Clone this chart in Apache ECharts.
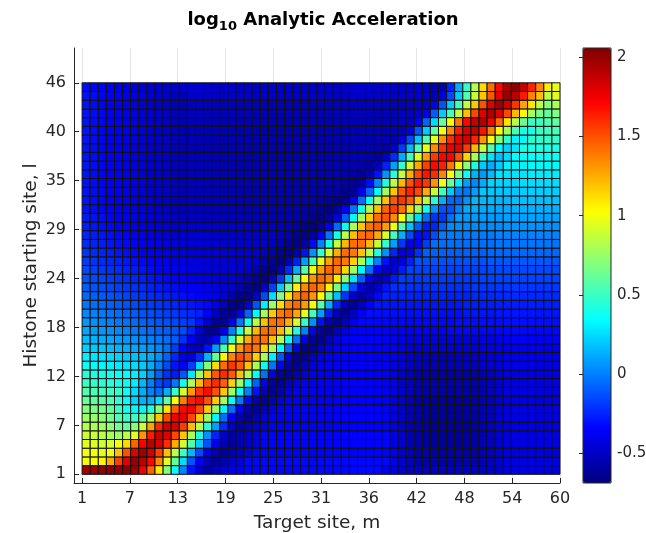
<!DOCTYPE html>
<html>
<head>
<meta charset="utf-8">
<script src="https://cdn.jsdelivr.net/npm/echarts@6/dist/echarts.min.js"></script>
<style>
html,body{margin:0;padding:0;background:#fff}
#main{width:646px;height:533px}
</style>
</head>
<body>
<div id="main"></div>
<script>
// tick positions (linspace of the site ranges) and the labels shown for them
var xTicks = [1, 6.9, 12.8, 18.7, 24.6, 30.5, 36.4, 42.3, 48.2, 54.1, 60];
var xTickLabels = ['1', '7', '13', '19', '25', '31', '36', '42', '48', '54', '60'];
var yTicks = [1, 6.625, 12.25, 17.875, 23.5, 29.125, 34.75, 40.375, 46];
var yTickLabels = ['1', '7', '12', '18', '24', '29', '35', '40', '46'];
var cbTicks = [-0.5, 0, 0.5, 1, 1.5, 2];
var cbTickLabels = ['-0.5', '0', '0.5', '1', '1.5', '2'];
var cbMin = -0.69, cbMax = 2.06;

// log10 acceleration, one array per histone starting site l, target sites m = 1..59
var l01 = [1.97,2.0,2.02,2.03,2.03,2.03,1.98,1.75,1.45,1.08,0.7,0.35,0.0,-0.3,-0.48,-0.58,-0.52,-0.45,-0.4,-0.36,-0.33,-0.33,-0.33,-0.33,-0.33,-0.33,-0.33,-0.33,-0.33,-0.33,-0.33,-0.33,-0.33,-0.33,-0.33,-0.33,-0.33,-0.38,-0.42,-0.46,-0.5,-0.5,-0.5,-0.5,-0.5,-0.5,-0.5,-0.5,-0.5,-0.5,-0.48,-0.46,-0.43,-0.43,-0.43,-0.43,-0.43,-0.43,-0.43];
var l02 = [1.0,1.02,1.05,1.25,1.55,1.8,2.0,1.9,1.7,1.35,0.95,0.6,0.25,-0.12,-0.38,-0.55,-0.6,-0.55,-0.48,-0.43,-0.33,-0.33,-0.33,-0.33,-0.33,-0.33,-0.33,-0.33,-0.33,-0.33,-0.33,-0.33,-0.33,-0.33,-0.33,-0.33,-0.33,-0.33,-0.4,-0.46,-0.51,-0.57,-0.57,-0.57,-0.57,-0.57,-0.57,-0.57,-0.57,-0.54,-0.5,-0.47,-0.43,-0.43,-0.43,-0.43,-0.43,-0.43,-0.43];
var l03 = [1.0,1.0,0.95,1.0,1.2,1.5,1.8,1.97,1.85,1.55,1.2,0.85,0.5,0.15,-0.15,-0.4,-0.55,-0.6,-0.55,-0.48,-0.43,-0.34,-0.34,-0.34,-0.34,-0.34,-0.34,-0.34,-0.34,-0.34,-0.34,-0.34,-0.34,-0.34,-0.34,-0.34,-0.34,-0.34,-0.4,-0.46,-0.51,-0.57,-0.57,-0.57,-0.57,-0.57,-0.57,-0.57,-0.57,-0.54,-0.5,-0.47,-0.43,-0.43,-0.43,-0.43,-0.43,-0.43,-0.43];
var l04 = [0.95,0.93,0.9,0.92,1.0,1.13,1.45,1.72,1.9,1.82,1.6,1.25,0.9,0.55,0.2,-0.12,-0.38,-0.54,-0.6,-0.55,-0.48,-0.44,-0.34,-0.34,-0.34,-0.34,-0.34,-0.34,-0.34,-0.34,-0.34,-0.34,-0.34,-0.34,-0.34,-0.34,-0.34,-0.34,-0.41,-0.47,-0.53,-0.58,-0.6,-0.61,-0.61,-0.61,-0.61,-0.6,-0.58,-0.55,-0.51,-0.47,-0.44,-0.43,-0.43,-0.43,-0.43,-0.43,-0.43];
var l05 = [0.9,0.88,0.85,0.8,0.75,0.85,0.95,1.32,1.65,1.86,1.8,1.53,1.18,0.8,0.42,0.05,-0.25,-0.48,-0.58,-0.55,-0.48,-0.44,-0.34,-0.34,-0.34,-0.34,-0.34,-0.34,-0.34,-0.34,-0.34,-0.34,-0.34,-0.34,-0.34,-0.34,-0.34,-0.34,-0.41,-0.47,-0.53,-0.58,-0.6,-0.61,-0.61,-0.61,-0.61,-0.6,-0.58,-0.55,-0.51,-0.47,-0.44,-0.43,-0.43,-0.43,-0.43,-0.43,-0.43];
var l06 = [0.82,0.8,0.78,0.72,0.65,0.6,0.7,0.9,1.28,1.62,1.84,1.82,1.56,1.21,0.83,0.45,0.08,-0.23,-0.47,-0.58,-0.55,-0.48,-0.42,-0.35,-0.35,-0.35,-0.35,-0.35,-0.35,-0.35,-0.35,-0.35,-0.35,-0.35,-0.35,-0.35,-0.35,-0.35,-0.41,-0.47,-0.53,-0.58,-0.6,-0.61,-0.61,-0.61,-0.61,-0.6,-0.58,-0.55,-0.51,-0.47,-0.44,-0.43,-0.43,-0.43,-0.43,-0.43,-0.43];
var l07 = [0.76,0.74,0.72,0.65,0.55,0.5,0.5,0.6,0.8,1.18,1.52,1.75,1.77,1.53,1.18,0.77,0.33,-0.05,-0.36,-0.56,-0.6,-0.52,-0.43,-0.35,-0.35,-0.35,-0.35,-0.35,-0.35,-0.35,-0.35,-0.35,-0.35,-0.35,-0.35,-0.35,-0.35,-0.35,-0.41,-0.47,-0.53,-0.58,-0.6,-0.61,-0.61,-0.61,-0.61,-0.6,-0.58,-0.55,-0.51,-0.47,-0.44,-0.43,-0.43,-0.43,-0.43,-0.43,-0.43];
var l08 = [0.7,0.68,0.66,0.6,0.5,0.4,0.33,0.32,0.42,0.72,1.1,1.46,1.7,1.74,1.52,1.17,0.76,0.34,-0.05,-0.36,-0.57,-0.6,-0.52,-0.43,-0.35,-0.35,-0.35,-0.35,-0.35,-0.35,-0.35,-0.35,-0.35,-0.35,-0.35,-0.35,-0.35,-0.35,-0.41,-0.47,-0.53,-0.58,-0.6,-0.61,-0.61,-0.61,-0.61,-0.6,-0.58,-0.55,-0.51,-0.47,-0.44,-0.43,-0.43,-0.43,-0.43,-0.43,-0.43];
var l09 = [0.62,0.6,0.58,0.55,0.46,0.35,0.22,0.13,0.12,0.25,0.6,1.02,1.38,1.64,1.7,1.5,1.17,0.78,0.36,-0.02,-0.33,-0.55,-0.6,-0.52,-0.43,-0.35,-0.35,-0.35,-0.35,-0.35,-0.35,-0.35,-0.35,-0.35,-0.35,-0.35,-0.35,-0.35,-0.41,-0.47,-0.53,-0.58,-0.6,-0.61,-0.61,-0.61,-0.61,-0.6,-0.58,-0.55,-0.51,-0.47,-0.44,-0.43,-0.43,-0.43,-0.43,-0.43,-0.43];
var l10 = [0.56,0.54,0.52,0.5,0.47,0.38,0.25,0.12,0.0,-0.05,0.12,0.5,0.92,1.3,1.58,1.68,1.5,1.17,0.78,0.38,0.0,-0.3,-0.53,-0.6,-0.53,-0.43,-0.36,-0.36,-0.36,-0.36,-0.36,-0.36,-0.36,-0.36,-0.36,-0.36,-0.36,-0.36,-0.4,-0.46,-0.51,-0.57,-0.57,-0.57,-0.57,-0.57,-0.57,-0.57,-0.57,-0.54,-0.5,-0.47,-0.43,-0.43,-0.43,-0.43,-0.43,-0.43,-0.43];
var l11 = [0.5,0.48,0.46,0.44,0.42,0.38,0.3,0.15,0.0,-0.15,-0.2,-0.02,0.38,0.82,1.22,1.5,1.6,1.46,1.15,0.76,0.32,-0.08,-0.4,-0.58,-0.6,-0.51,-0.43,-0.36,-0.36,-0.36,-0.36,-0.36,-0.36,-0.36,-0.36,-0.36,-0.36,-0.36,-0.4,-0.46,-0.51,-0.57,-0.57,-0.57,-0.57,-0.57,-0.57,-0.57,-0.57,-0.54,-0.5,-0.47,-0.43,-0.43,-0.43,-0.43,-0.43,-0.43,-0.43];
var l12 = [0.44,0.42,0.4,0.38,0.36,0.34,0.3,0.22,0.08,-0.08,-0.22,-0.28,-0.12,0.28,0.78,1.19,1.48,1.6,1.48,1.19,0.8,0.35,-0.05,-0.38,-0.58,-0.61,-0.52,-0.43,-0.37,-0.37,-0.37,-0.37,-0.37,-0.37,-0.37,-0.37,-0.37,-0.37,-0.4,-0.46,-0.51,-0.57,-0.57,-0.57,-0.57,-0.57,-0.57,-0.57,-0.57,-0.54,-0.5,-0.47,-0.43,-0.43,-0.43,-0.43,-0.43,-0.43,-0.43];
var l13 = [0.37,0.35,0.33,0.31,0.29,0.27,0.25,0.2,0.12,0.0,-0.15,-0.3,-0.35,-0.18,0.24,0.72,1.12,1.42,1.57,1.47,1.2,0.8,0.36,-0.04,-0.37,-0.58,-0.61,-0.51,-0.43,-0.37,-0.37,-0.37,-0.37,-0.37,-0.37,-0.37,-0.37,-0.37,-0.4,-0.44,-0.48,-0.52,-0.53,-0.53,-0.53,-0.53,-0.52,-0.51,-0.5,-0.48,-0.46,-0.44,-0.42,-0.42,-0.42,-0.42,-0.42,-0.42,-0.42];
var l14 = [0.3,0.28,0.26,0.24,0.22,0.2,0.18,0.16,0.12,0.05,-0.08,-0.25,-0.42,-0.45,-0.24,0.14,0.6,1.05,1.36,1.51,1.42,1.16,0.8,0.3,-0.12,-0.44,-0.63,-0.6,-0.5,-0.42,-0.37,-0.37,-0.37,-0.37,-0.37,-0.37,-0.37,-0.37,-0.4,-0.44,-0.48,-0.52,-0.53,-0.53,-0.53,-0.53,-0.52,-0.51,-0.5,-0.48,-0.46,-0.44,-0.42,-0.42,-0.42,-0.42,-0.42,-0.42,-0.42];
var l15 = [0.22,0.2,0.18,0.16,0.14,0.12,0.1,0.08,0.06,0.02,-0.05,-0.18,-0.35,-0.5,-0.52,-0.3,0.07,0.53,0.97,1.3,1.47,1.4,1.16,0.8,0.34,-0.08,-0.42,-0.62,-0.62,-0.5,-0.41,-0.36,-0.36,-0.36,-0.36,-0.36,-0.36,-0.36,-0.38,-0.41,-0.44,-0.46,-0.47,-0.47,-0.47,-0.47,-0.46,-0.45,-0.44,-0.43,-0.42,-0.41,-0.4,-0.4,-0.4,-0.4,-0.4,-0.4,-0.4];
var l16 = [0.16,0.14,0.12,0.1,0.08,0.06,0.04,0.02,0.0,-0.02,-0.05,-0.1,-0.22,-0.4,-0.55,-0.55,-0.34,0.03,0.48,0.92,1.25,1.43,1.41,1.2,0.83,0.38,-0.05,-0.39,-0.61,-0.63,-0.52,-0.41,-0.35,-0.35,-0.35,-0.35,-0.35,-0.35,-0.37,-0.39,-0.41,-0.43,-0.44,-0.44,-0.44,-0.44,-0.43,-0.42,-0.41,-0.4,-0.39,-0.38,-0.37,-0.37,-0.37,-0.37,-0.37,-0.37,-0.37];
var l17 = [0.1,0.08,0.06,0.04,0.02,0.0,-0.02,-0.04,-0.06,-0.08,-0.1,-0.12,-0.15,-0.26,-0.44,-0.6,-0.6,-0.36,0.0,0.43,0.87,1.22,1.42,1.42,1.22,0.87,0.43,0.0,-0.35,-0.59,-0.64,-0.52,-0.41,-0.35,-0.35,-0.35,-0.35,-0.35,-0.35,-0.35,-0.35,-0.35,-0.35,-0.35,-0.35,-0.33,-0.33,-0.33,-0.33,-0.33,-0.33,-0.33,-0.33,-0.33,-0.33,-0.33,-0.33,-0.33,-0.33];
var l18 = [0.06,0.04,0.02,0.0,-0.02,-0.04,-0.06,-0.08,-0.1,-0.12,-0.14,-0.16,-0.18,-0.2,-0.3,-0.47,-0.62,-0.62,-0.38,-0.03,0.4,0.84,1.2,1.41,1.43,1.25,0.92,0.48,0.04,-0.31,-0.56,-0.63,-0.52,-0.39,-0.33,-0.33,-0.33,-0.33,-0.33,-0.33,-0.33,-0.33,-0.33,-0.33,-0.33,-0.33,-0.31,-0.31,-0.31,-0.31,-0.31,-0.31,-0.31,-0.31,-0.31,-0.31,-0.31,-0.31,-0.31];
var l19 = [0.02,0.0,-0.02,-0.04,-0.06,-0.08,-0.1,-0.12,-0.14,-0.16,-0.18,-0.2,-0.22,-0.24,-0.26,-0.34,-0.5,-0.63,-0.63,-0.41,-0.08,0.35,0.8,1.17,1.39,1.44,1.27,0.95,0.52,0.08,-0.28,-0.54,-0.62,-0.5,-0.37,-0.31,-0.31,-0.31,-0.31,-0.31,-0.31,-0.31,-0.31,-0.31,-0.31,-0.31,-0.31,-0.29,-0.29,-0.29,-0.29,-0.29,-0.29,-0.29,-0.29,-0.29,-0.29,-0.29,-0.29];
var l20 = [-0.03,-0.05,-0.07,-0.09,-0.11,-0.13,-0.15,-0.17,-0.19,-0.21,-0.23,-0.25,-0.27,-0.29,-0.31,-0.33,-0.4,-0.52,-0.63,-0.64,-0.44,-0.12,0.3,0.75,1.13,1.37,1.44,1.3,0.99,0.57,0.12,-0.25,-0.52,-0.6,-0.5,-0.35,-0.29,-0.29,-0.29,-0.29,-0.29,-0.29,-0.29,-0.29,-0.29,-0.29,-0.29,-0.27,-0.27,-0.27,-0.27,-0.27,-0.27,-0.27,-0.27,-0.27,-0.27,-0.27,-0.27];
var l21 = [-0.07,-0.09,-0.11,-0.13,-0.15,-0.17,-0.19,-0.21,-0.23,-0.25,-0.27,-0.29,-0.31,-0.33,-0.35,-0.37,-0.39,-0.44,-0.53,-0.63,-0.64,-0.46,-0.15,0.25,0.7,1.1,1.36,1.45,1.32,1.02,0.61,0.17,-0.21,-0.49,-0.59,-0.5,-0.33,-0.26,-0.26,-0.26,-0.26,-0.26,-0.26,-0.26,-0.26,-0.26,-0.26,-0.26,-0.24,-0.24,-0.24,-0.24,-0.24,-0.24,-0.24,-0.24,-0.24,-0.24,-0.24];
var l22 = [-0.1,-0.12,-0.14,-0.16,-0.18,-0.2,-0.22,-0.24,-0.26,-0.28,-0.3,-0.32,-0.34,-0.36,-0.38,-0.4,-0.42,-0.44,-0.47,-0.54,-0.62,-0.65,-0.48,-0.18,0.2,0.66,1.06,1.34,1.45,1.34,1.06,0.66,0.22,-0.16,-0.45,-0.57,-0.48,-0.3,-0.22,-0.22,-0.22,-0.22,-0.22,-0.22,-0.22,-0.22,-0.22,-0.22,-0.2,-0.2,-0.2,-0.2,-0.2,-0.2,-0.2,-0.2,-0.2,-0.2,-0.2];
var l23 = [-0.13,-0.15,-0.17,-0.19,-0.21,-0.23,-0.25,-0.27,-0.29,-0.31,-0.33,-0.35,-0.37,-0.39,-0.41,-0.43,-0.45,-0.45,-0.45,-0.48,-0.54,-0.62,-0.65,-0.5,-0.21,0.16,0.62,1.03,1.32,1.45,1.36,1.09,0.71,0.27,-0.1,-0.4,-0.54,-0.46,-0.28,-0.19,-0.19,-0.19,-0.19,-0.19,-0.19,-0.19,-0.19,-0.19,-0.19,-0.17,-0.17,-0.17,-0.17,-0.17,-0.17,-0.17,-0.17,-0.17,-0.17];
var l24 = [-0.16,-0.18,-0.2,-0.22,-0.24,-0.26,-0.28,-0.3,-0.32,-0.34,-0.36,-0.38,-0.4,-0.42,-0.44,-0.45,-0.45,-0.45,-0.45,-0.45,-0.48,-0.54,-0.62,-0.65,-0.52,-0.24,0.12,0.58,1.0,1.3,1.45,1.38,1.13,0.76,0.33,-0.05,-0.35,-0.5,-0.44,-0.28,-0.17,-0.17,-0.17,-0.17,-0.17,-0.17,-0.17,-0.17,-0.17,-0.17,-0.15,-0.15,-0.15,-0.15,-0.15,-0.15,-0.15,-0.15,-0.15];
var l25 = [-0.19,-0.21,-0.23,-0.25,-0.27,-0.29,-0.31,-0.33,-0.35,-0.37,-0.39,-0.41,-0.43,-0.45,-0.45,-0.46,-0.46,-0.46,-0.46,-0.46,-0.46,-0.48,-0.54,-0.62,-0.65,-0.53,-0.27,0.08,0.53,0.97,1.28,1.44,1.39,1.16,0.8,0.38,0.0,-0.3,-0.46,-0.42,-0.26,-0.13,-0.13,-0.13,-0.13,-0.13,-0.13,-0.13,-0.13,-0.13,-0.11,-0.11,-0.11,-0.11,-0.11,-0.11,-0.11,-0.11,-0.11];
var l26 = [-0.21,-0.23,-0.25,-0.27,-0.29,-0.31,-0.33,-0.35,-0.37,-0.39,-0.41,-0.43,-0.45,-0.46,-0.46,-0.46,-0.46,-0.46,-0.46,-0.46,-0.46,-0.46,-0.48,-0.54,-0.62,-0.65,-0.55,-0.3,0.04,0.48,0.92,1.25,1.43,1.4,1.19,0.84,0.43,0.04,-0.25,-0.42,-0.38,-0.22,-0.09,-0.09,-0.09,-0.09,-0.09,-0.09,-0.09,-0.09,-0.07,-0.07,-0.07,-0.07,-0.07,-0.07,-0.07,-0.07,-0.07];
var l27 = [-0.23,-0.25,-0.27,-0.29,-0.31,-0.33,-0.35,-0.37,-0.39,-0.41,-0.43,-0.45,-0.47,-0.47,-0.47,-0.47,-0.47,-0.47,-0.47,-0.47,-0.47,-0.47,-0.47,-0.49,-0.55,-0.62,-0.65,-0.56,-0.33,0.0,0.43,0.87,1.22,1.42,1.42,1.22,0.88,0.47,0.08,-0.2,-0.38,-0.34,-0.18,-0.05,-0.05,-0.05,-0.05,-0.05,-0.05,-0.05,-0.05,-0.03,-0.03,-0.03,-0.03,-0.03,-0.03,-0.03,-0.03];
var l28 = [-0.25,-0.27,-0.29,-0.31,-0.33,-0.35,-0.37,-0.39,-0.41,-0.43,-0.45,-0.47,-0.48,-0.48,-0.48,-0.48,-0.48,-0.48,-0.48,-0.48,-0.48,-0.48,-0.48,-0.48,-0.5,-0.55,-0.62,-0.65,-0.58,-0.36,-0.03,0.4,0.84,1.2,1.41,1.43,1.26,0.93,0.52,0.13,-0.15,-0.33,-0.3,-0.14,-0.01,-0.01,-0.01,-0.01,-0.01,-0.01,-0.01,0.01,0.01,0.01,0.01,0.01,0.01,0.01,0.01];
var l29 = [-0.27,-0.29,-0.31,-0.33,-0.35,-0.37,-0.39,-0.41,-0.43,-0.45,-0.47,-0.49,-0.5,-0.5,-0.5,-0.5,-0.5,-0.5,-0.5,-0.5,-0.5,-0.5,-0.5,-0.5,-0.5,-0.52,-0.56,-0.63,-0.66,-0.6,-0.39,-0.06,0.36,0.8,1.18,1.41,1.46,1.3,0.98,0.58,0.18,-0.1,-0.28,-0.25,-0.1,0.03,0.03,0.03,0.03,0.03,0.03,0.03,0.05,0.05,0.05,0.05,0.05,0.05,0.05];
var l30 = [-0.28,-0.3,-0.32,-0.34,-0.36,-0.38,-0.4,-0.42,-0.44,-0.46,-0.48,-0.5,-0.52,-0.53,-0.53,-0.53,-0.53,-0.53,-0.53,-0.53,-0.53,-0.53,-0.53,-0.53,-0.53,-0.53,-0.54,-0.57,-0.63,-0.66,-0.6,-0.42,-0.1,0.33,0.78,1.17,1.42,1.49,1.34,1.02,0.62,0.24,-0.05,-0.22,-0.2,-0.05,0.07,0.07,0.07,0.07,0.07,0.07,0.09,0.09,0.09,0.09,0.09,0.09,0.09];
var l31 = [-0.3,-0.32,-0.34,-0.36,-0.38,-0.4,-0.42,-0.44,-0.46,-0.48,-0.5,-0.52,-0.54,-0.55,-0.55,-0.55,-0.55,-0.55,-0.55,-0.55,-0.55,-0.55,-0.55,-0.55,-0.55,-0.55,-0.55,-0.56,-0.58,-0.63,-0.65,-0.58,-0.36,-0.04,0.38,0.82,1.2,1.45,1.55,1.42,1.14,0.77,0.38,0.05,-0.13,-0.12,0.0,0.11,0.11,0.11,0.11,0.11,0.11,0.13,0.13,0.13,0.13,0.13,0.13];
var l32 = [-0.3,-0.32,-0.34,-0.36,-0.38,-0.4,-0.42,-0.44,-0.46,-0.48,-0.5,-0.52,-0.54,-0.55,-0.55,-0.55,-0.55,-0.55,-0.55,-0.55,-0.55,-0.55,-0.55,-0.55,-0.55,-0.55,-0.55,-0.55,-0.55,-0.56,-0.58,-0.64,-0.62,-0.4,-0.06,0.36,0.8,1.19,1.48,1.58,1.48,1.2,0.82,0.45,0.12,-0.07,-0.08,0.05,0.15,0.15,0.15,0.15,0.15,0.17,0.17,0.17,0.17,0.17,0.17];
var l33 = [-0.3,-0.32,-0.34,-0.36,-0.38,-0.4,-0.42,-0.44,-0.46,-0.48,-0.5,-0.52,-0.54,-0.55,-0.55,-0.55,-0.55,-0.55,-0.55,-0.55,-0.55,-0.55,-0.55,-0.55,-0.55,-0.55,-0.55,-0.55,-0.55,-0.55,-0.56,-0.58,-0.64,-0.62,-0.4,-0.07,0.34,0.78,1.18,1.48,1.62,1.52,1.25,0.88,0.52,0.2,0.0,-0.03,0.08,0.19,0.19,0.19,0.19,0.19,0.21,0.21,0.21,0.21,0.21];
var l34 = [-0.3,-0.32,-0.34,-0.36,-0.38,-0.4,-0.42,-0.44,-0.46,-0.48,-0.5,-0.52,-0.54,-0.55,-0.55,-0.55,-0.55,-0.55,-0.55,-0.55,-0.55,-0.55,-0.55,-0.55,-0.55,-0.55,-0.55,-0.55,-0.55,-0.55,-0.55,-0.56,-0.58,-0.63,-0.58,-0.32,0.02,0.42,0.84,1.22,1.5,1.65,1.57,1.32,0.98,0.62,0.3,0.08,0.02,0.12,0.23,0.23,0.23,0.23,0.25,0.25,0.25,0.25,0.25];
var l35 = [-0.3,-0.32,-0.34,-0.36,-0.38,-0.4,-0.42,-0.44,-0.46,-0.48,-0.5,-0.52,-0.54,-0.55,-0.55,-0.55,-0.55,-0.55,-0.55,-0.55,-0.55,-0.55,-0.55,-0.55,-0.55,-0.55,-0.55,-0.55,-0.55,-0.55,-0.55,-0.55,-0.56,-0.58,-0.62,-0.55,-0.3,0.05,0.45,0.87,1.25,1.53,1.67,1.6,1.36,1.02,0.67,0.36,0.14,0.07,0.16,0.27,0.27,0.27,0.27,0.29,0.29,0.29,0.29];
var l36 = [-0.3,-0.32,-0.34,-0.36,-0.38,-0.4,-0.42,-0.44,-0.46,-0.48,-0.5,-0.52,-0.54,-0.55,-0.55,-0.55,-0.55,-0.55,-0.55,-0.55,-0.55,-0.55,-0.55,-0.55,-0.55,-0.55,-0.55,-0.55,-0.55,-0.55,-0.55,-0.55,-0.55,-0.56,-0.58,-0.61,-0.52,-0.26,0.08,0.48,0.9,1.27,1.55,1.7,1.64,1.4,1.06,0.72,0.42,0.2,0.12,0.2,0.31,0.31,0.31,0.33,0.33,0.33,0.33];
var l37 = [-0.3,-0.32,-0.34,-0.36,-0.38,-0.4,-0.42,-0.44,-0.46,-0.48,-0.5,-0.52,-0.54,-0.55,-0.55,-0.55,-0.55,-0.55,-0.55,-0.55,-0.55,-0.55,-0.55,-0.55,-0.55,-0.55,-0.55,-0.55,-0.55,-0.55,-0.55,-0.55,-0.55,-0.55,-0.56,-0.57,-0.6,-0.5,-0.23,0.11,0.51,0.93,1.3,1.57,1.72,1.72,1.5,1.15,0.8,0.5,0.27,0.17,0.24,0.35,0.35,0.35,0.37,0.37,0.37];
var l38 = [-0.3,-0.32,-0.34,-0.36,-0.38,-0.4,-0.42,-0.44,-0.46,-0.48,-0.5,-0.52,-0.54,-0.55,-0.55,-0.55,-0.55,-0.55,-0.55,-0.55,-0.55,-0.55,-0.55,-0.55,-0.55,-0.55,-0.55,-0.55,-0.55,-0.55,-0.55,-0.55,-0.55,-0.55,-0.55,-0.55,-0.56,-0.58,-0.47,-0.19,0.15,0.55,0.97,1.34,1.6,1.76,1.77,1.56,1.22,0.87,0.56,0.33,0.22,0.28,0.4,0.4,0.42,0.42,0.42];
var l39 = [-0.3,-0.32,-0.34,-0.36,-0.38,-0.4,-0.42,-0.44,-0.46,-0.48,-0.5,-0.52,-0.54,-0.55,-0.55,-0.55,-0.55,-0.55,-0.55,-0.55,-0.55,-0.55,-0.55,-0.55,-0.55,-0.55,-0.55,-0.55,-0.55,-0.55,-0.55,-0.55,-0.55,-0.55,-0.55,-0.55,-0.54,-0.54,-0.55,-0.43,-0.15,0.18,0.57,0.97,1.33,1.6,1.78,1.83,1.62,1.32,1.0,0.7,0.46,0.32,0.33,0.45,0.46,0.47,0.48];
var l40 = [-0.3,-0.32,-0.34,-0.36,-0.38,-0.4,-0.42,-0.44,-0.46,-0.48,-0.5,-0.52,-0.54,-0.55,-0.55,-0.55,-0.55,-0.55,-0.55,-0.55,-0.55,-0.55,-0.55,-0.55,-0.55,-0.55,-0.55,-0.55,-0.55,-0.55,-0.55,-0.55,-0.55,-0.55,-0.55,-0.55,-0.55,-0.53,-0.52,-0.52,-0.4,-0.12,0.2,0.6,1.0,1.36,1.65,1.82,1.87,1.67,1.37,1.04,0.76,0.53,0.4,0.4,0.5,0.52,0.54];
var l41 = [-0.3,-0.32,-0.34,-0.36,-0.38,-0.4,-0.42,-0.44,-0.46,-0.48,-0.5,-0.52,-0.54,-0.54,-0.54,-0.54,-0.54,-0.54,-0.54,-0.54,-0.54,-0.54,-0.54,-0.54,-0.54,-0.54,-0.54,-0.54,-0.54,-0.54,-0.54,-0.54,-0.54,-0.54,-0.54,-0.54,-0.54,-0.54,-0.52,-0.5,-0.5,-0.37,-0.08,0.24,0.63,1.03,1.4,1.7,1.87,1.92,1.74,1.43,1.1,0.84,0.62,0.5,0.5,0.56,0.6];
var l42 = [-0.3,-0.32,-0.34,-0.36,-0.38,-0.4,-0.42,-0.44,-0.46,-0.48,-0.5,-0.52,-0.54,-0.53,-0.53,-0.53,-0.53,-0.53,-0.53,-0.53,-0.53,-0.53,-0.53,-0.53,-0.53,-0.53,-0.53,-0.53,-0.53,-0.53,-0.53,-0.53,-0.53,-0.53,-0.53,-0.53,-0.53,-0.53,-0.53,-0.5,-0.49,-0.49,-0.38,-0.1,0.2,0.52,0.86,1.2,1.52,1.8,1.94,1.8,1.52,1.22,1.05,0.8,0.66,0.6,0.68];
var l43 = [-0.3,-0.32,-0.34,-0.36,-0.38,-0.4,-0.42,-0.44,-0.46,-0.48,-0.5,-0.52,-0.54,-0.52,-0.52,-0.52,-0.52,-0.52,-0.52,-0.52,-0.52,-0.52,-0.52,-0.52,-0.52,-0.52,-0.52,-0.52,-0.52,-0.52,-0.52,-0.52,-0.52,-0.52,-0.52,-0.52,-0.52,-0.52,-0.52,-0.52,-0.5,-0.48,-0.48,-0.38,-0.12,0.2,0.52,0.86,1.18,1.5,1.8,1.97,1.85,1.58,1.28,1.1,0.85,0.7,0.8];
var l44 = [-0.3,-0.32,-0.34,-0.36,-0.38,-0.4,-0.42,-0.44,-0.46,-0.48,-0.5,-0.52,-0.54,-0.5,-0.5,-0.5,-0.5,-0.5,-0.5,-0.5,-0.5,-0.5,-0.5,-0.5,-0.5,-0.5,-0.5,-0.5,-0.5,-0.5,-0.5,-0.5,-0.5,-0.5,-0.5,-0.5,-0.5,-0.5,-0.5,-0.5,-0.5,-0.48,-0.5,-0.53,-0.42,-0.15,0.2,0.55,0.88,1.18,1.48,1.78,1.99,1.9,1.65,1.36,1.2,0.85,0.95];
var l45 = [-0.32,-0.34,-0.36,-0.38,-0.4,-0.42,-0.44,-0.46,-0.47,-0.48,-0.48,-0.48,-0.48,-0.48,-0.48,-0.48,-0.48,-0.48,-0.48,-0.48,-0.48,-0.48,-0.48,-0.48,-0.48,-0.48,-0.48,-0.48,-0.48,-0.48,-0.48,-0.48,-0.48,-0.48,-0.48,-0.48,-0.48,-0.48,-0.48,-0.48,-0.48,-0.48,-0.5,-0.55,-0.55,-0.25,0.12,0.48,0.82,1.12,1.42,1.7,1.95,2.03,1.88,1.62,1.35,1.08,0.97];

var rows = [l01,l02,l03,l04,l05,l06,l07,l08,l09,l10,l11,l12,l13,l14,l15,l16,l17,l18,l19,l20,
            l21,l22,l23,l24,l25,l26,l27,l28,l29,l30,l31,l32,l33,l34,l35,l36,l37,l38,l39,l40,
            l41,l42,l43,l44,l45];

// jet colormap
var jet = ['#000080','#0000ff','#0080ff','#00ffff','#80ff80','#ffff00','#ff8000','#ff0000','#800000'];
var FONT = 'DejaVu Sans';
var INK = '#262626';

var cells = [];
rows.forEach(function (row, j) {
  row.forEach(function (v, i) {
    cells.push([i + 1, j + 1, v]);
  });
});

function pickLabel(ticks, labels) {
  return function (v) {
    var k = 0;
    for (var i = 1; i < ticks.length; i++) {
      if (Math.abs(ticks[i] - v) < Math.abs(ticks[k] - v)) k = i;
    }
    return labels[k];
  };
}

// pcolor style: cell [m, m+1] x [l, l+1] coloured by its corner value
function drawCell(params, api) {
  var m = api.value(0), l = api.value(1);
  var a = api.coord([m, l + 1]);
  var b = api.coord([m + 1, l]);
  return {
    type: 'rect',
    shape: { x: a[0], y: a[1], width: b[0] - a[0], height: b[1] - a[1] },
    style: { fill: api.visual('color'), stroke: '#111', lineWidth: 1 }
  };
}

var chart = echarts.init(document.getElementById('main'));
var option = {
  backgroundColor: '#fff',
  animation: false,
  title: {
    text: '{b|log}{s|10}{b| Analytic Acceleration}',
    left: 'center',
    top: 4,
    padding: 5,
    textStyle: {
      rich: {
        b: { fontFamily: FONT, fontSize: 18, fontWeight: 'bold', color: '#000', lineHeight: 22 },
        s: { fontFamily: FONT, fontSize: 13, fontWeight: 'bold', color: '#000', lineHeight: 22, padding: [14, 0, 0, 0] }
      }
    }
  },
  grid: [
    { left: 74, top: 48, width: 486, height: 435, outerBoundsMode: 'none' },
    { left: 583, top: 48, width: 28, height: 435, show: true, borderColor: INK, borderWidth: 1,
      backgroundColor: 'transparent', z: 10, outerBoundsMode: 'none' }
  ],
  xAxis: [
    {
      gridIndex: 0, type: 'value', min: 0, max: 60,
      name: 'Target site, m', nameLocation: 'middle', nameGap: 31, nameMoveOverlap: false,
      nameTextStyle: { fontFamily: FONT, fontSize: 18.5, color: INK },
      axisLine: { show: true, onZero: false, lineStyle: { color: INK, width: 1 } },
      axisTick: { show: true, inside: true, length: 5, customValues: xTicks, lineStyle: { color: INK } },
      axisLabel: { customValues: xTicks, formatter: pickLabel(xTicks, xTickLabels), margin: 8,
                   fontFamily: FONT, fontSize: 16, color: INK },
      splitLine: { show: true, lineStyle: { color: '#e4e4e4', width: 1 } }
    },
    { gridIndex: 1, type: 'value', min: 0, max: 1, show: false }
  ],
  yAxis: [
    {
      gridIndex: 0, type: 'value', min: 0, max: 50,
      name: 'Histone starting site, l', nameLocation: 'middle', nameGap: 33, nameRotate: 90, nameMoveOverlap: false,
      nameTextStyle: { fontFamily: FONT, fontSize: 18.5, color: INK },
      axisLine: { show: true, onZero: false, lineStyle: { color: INK, width: 1 } },
      axisTick: { show: true, inside: true, length: 5, customValues: yTicks, lineStyle: { color: INK } },
      axisLabel: { customValues: yTicks, formatter: pickLabel(yTicks, yTickLabels), margin: 8,
                   fontFamily: FONT, fontSize: 16, color: INK },
      splitLine: { show: true, lineStyle: { color: '#e4e4e4', width: 1 } }
    },
    {
      gridIndex: 1, type: 'value', min: cbMin, max: cbMax, position: 'right',
      axisLine: { show: false },
      axisTick: { show: true, inside: true, length: 4, customValues: cbTicks, lineStyle: { color: INK } },
      axisLabel: { customValues: cbTicks, formatter: pickLabel(cbTicks, cbTickLabels), margin: 6,
                   fontFamily: FONT, fontSize: 15, color: INK },
      splitLine: { show: false }
    }
  ],
  visualMap: {
    type: 'continuous',
    min: cbMin, max: cbMax,
    dimension: 2, seriesIndex: 0,
    left: 583, top: 48, itemWidth: 28, itemHeight: 435, padding: 0,
    calculable: false, realtime: false, hoverLink: false,
    inRange: { color: jet }
  },
  series: [{
    type: 'custom',
    xAxisIndex: 0, yAxisIndex: 0,
    renderItem: drawCell,
    encode: { x: 0, y: 1 },
    data: cells,
    progressive: 0,
    silent: true
  }]
};
chart.setOption(option);
</script>
</body>
</html>
